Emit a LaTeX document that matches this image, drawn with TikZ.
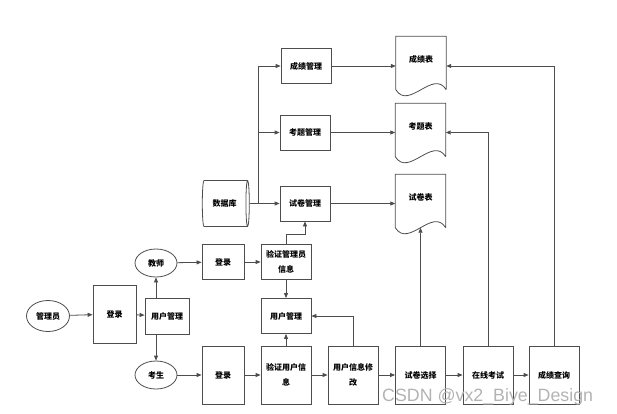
\documentclass[tikz,border=0pt]{standalone}
\usepackage{fontspec}
\newfontfamily\cjk{Noto Sans CJK SC}
\setsansfont{Liberation Sans}
\usetikzlibrary{arrows.meta, shapes.geometric, calc}
\definecolor{linegray}{HTML}{4D4D4D}
\definecolor{markgray}{HTML}{B3B3B3}

\begin{document}
\begin{tikzpicture}[
    x=1pt, y=-1pt,
    every node/.style={font=\cjk\bfseries\fontsize{8}{15}\selectfont, inner sep=1pt},
    box/.style={draw=linegray, line width=0.8pt, minimum width=50, minimum height=35, align=center},
    tall/.style={minimum height=58},
    ell/.style={draw=linegray, line width=0.8pt, ellipse, minimum width=42, minimum height=28, inner sep=0pt},
    cyl/.style={draw=linegray, line width=0.8pt, cylinder, shape aspect=0.35, minimum width=46, minimum height=47},
    doc/.style={minimum width=50, minimum height=53, text depth=7pt},
    line/.style={line width=0.8pt, linegray},
    arrow/.style={-{Triangle[length=5pt, width=4pt]}, line width=0.8pt, linegray}
  ]
    \useasboundingbox (0,0) rectangle (617,414);

    % users and login
    \node[ell, minimum width=43, minimum height=31] (gly) at (48,316) {管理员};
    \node[box, minimum width=43, tall] (dl1) at (114.5,314) {登录};
    \node[box, minimum width=44, minimum height=36] (yhgl1) at (167,316) {用户管理};
    \node[ell] (js) at (156,263) {教师};
    \node[ell] (ks) at (156,375) {考生};
    \node[box, minimum width=42] (dl2) at (223,262) {登录};
    \node[box, minimum width=42, tall] (dl3) at (223,375) {登录};
    \node[box] (yzgly) at (286,262) {验证管理员\\信息};
    \node[box] (yhgl2) at (286,316) {用户管理};
    \node[box, tall] (yzyh) at (286,375) {验证用户信\\息};
    \node[box, tall] (yhxx) at (353,375) {用户信息修\\改};
    \node[box, tall] (sjxz) at (420.5,375) {试卷选择};
    \node[box, tall] (zxks) at (488,375) {在线考试};
    \node[box, tall] (cjcx) at (554,375) {成绩查询};

    % database and tables
    \node[cyl] (db) at (224.5,203.5) {数据库};
    \node[box] (cjgl) at (306,66) {成绩管理};
    \node[box] (ktgl) at (305,132.5) {考题管理};
    \node[box] (sjgl) at (305,203.5) {试卷管理};
    \node[doc] (cjb) at (421,63) {成绩表};
    \node[doc] (ktb) at (420.5,130) {考题表};
    \node[doc] (sjb) at (420.5,201) {试卷表};
    \foreach \d in {cjb,ktb,sjb}
      \draw[line] (\d.south east) -- (\d.north east) -- (\d.north west) -- (\d.south west)
        .. controls +(13,21) and +(-13,-21) .. (\d.south east);

    \coordinate (jn) at (258,203.5);

    \draw[arrow] (gly) -- (dl1);
    \draw[arrow] (dl1) -- (yhgl1);
    \draw[arrow] (js.south |- yhgl1.north) -- (js.south);
    \draw[arrow] (ks.north |- yhgl1.south) -- (ks.north);
    \draw[arrow] (js) -- (dl2);
    \draw[arrow] (ks) -- (dl3);
    \draw[arrow] (dl2) -- (yzgly);
    \draw[arrow] (dl3) -- (yzyh);
    \draw[arrow] (yzgly) -- (yhgl2);
    \draw[arrow] (yzyh) -- (yhgl2);
    \draw[arrow] (yzgly.north) -- ++(0,-10) -| (sjgl.south);
    \draw[arrow] (yhxx.north) |- (yhgl2.east);
    \draw[arrow] (yzyh) -- (yhxx);
    \draw[arrow] (yhxx) -- (sjxz);
    \draw[arrow] (sjxz) -- (zxks);
    \draw[arrow] (zxks) -- (cjcx);

    \draw[line] (db.east) -- (jn);
    \draw[arrow] (jn) |- (cjgl.west);
    \draw[arrow] (jn) |- (ktgl.west);
    \draw[arrow] (jn) -- (sjgl.west);
    \draw[arrow] (cjgl.east) -- (cjgl.east -| cjb.west);
    \draw[arrow] (ktgl.east) -- (ktgl.east -| ktb.west);
    \draw[arrow] (sjgl.east) -- (sjgl.east -| sjb.west);

    \draw[arrow] (sjxz.north) -- (sjxz.north |- sjb.south);
    \draw[arrow] (zxks.north) |- (ktgl.east -| ktb.east);
    \draw[arrow] (cjcx.north) |- (cjgl.east -| cjb.east);

    \node[font=\sffamily\fontsize{17.8}{17.8}\selectfont, text=markgray, anchor=west, inner sep=0pt] (wm) at (382,397) {CSDN @vx2\_Biye\_Design};
\end{tikzpicture}
\end{document}
